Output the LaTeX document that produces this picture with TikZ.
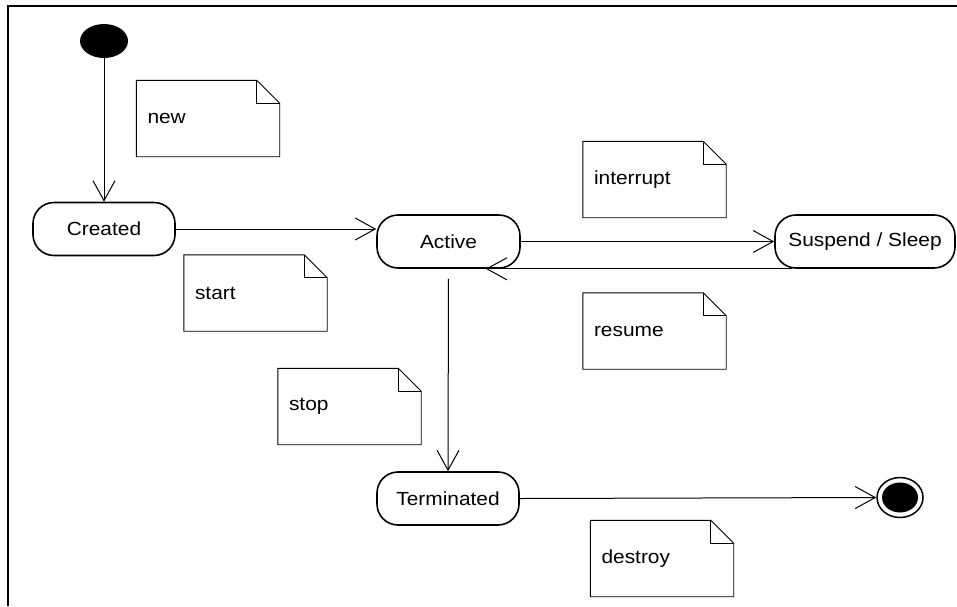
\documentclass[tikz,border=0pt]{standalone}
\usepackage{fontspec}
\setmainfont{Liberation Sans}[FakeStretch=1.1]
\usetikzlibrary{arrows.meta,shapes.geometric,calc}
\tikzset{
  statebox/.style={draw, line width=1.6pt, rounded corners=21pt, minimum height=53pt, inner sep=0pt, font=\fontsize{19}{22}\selectfont},
  notebox/.style={minimum width=143pt, minimum height=76pt, text width=121pt, align=left, inner xsep=11pt, inner ysep=0pt, font=\fontsize{19}{22}\selectfont},
  notefold/.style={line width=0.9pt},
  conn/.style={line width=1pt, -{Straight Barb[length=20pt,width=22pt,line width=1pt]}},
}
\newcommand\umlnotedraw[1]{%
  \draw[notefold] (#1.south west) -- (#1.north west) -- ([xshift=-23pt]#1.north east) -- ([yshift=-23pt]#1.north east) -- (#1.south east) -- cycle;
  \draw[notefold] ([xshift=-23pt]#1.north east) |- ([yshift=-23pt]#1.north east);
}
\begin{document}
\begin{tikzpicture}[x=1pt,y=-1pt]
\useasboundingbox (0,0) rectangle (957,606);
% frame
\draw[line width=2.2pt] (8,606) -- (8,6) -- (957,6);
% states
\node[ellipse, fill=black, minimum width=48pt, minimum height=34pt, inner sep=0pt] (init) at (104,41) {};
\node[statebox, minimum width=142pt] (created) at (104,229) {Created};
\node[statebox, minimum width=143pt] (active) at (448.5,241.5) {Active};
\node[statebox, minimum width=180pt] (susp) at (865,241.5) {Suspend / Sleep};
\node[statebox, minimum width=142pt] (term) at (448,498.5) {Terminated};
\node[ellipse, draw, line width=1.5pt, minimum width=46pt, minimum height=40pt, inner sep=0pt] (final) at (900,497.5) {};
\fill (final.center) ellipse [x radius=18pt, y radius=15pt];
% notes
\node[notebox] (nnew) at (208,118.5) {new};
\node[notebox] (nstart) at (255.5,293) {start};
\node[notebox] (nint) at (654.5,179.5) {interrupt};
\node[notebox] (nres) at (654.5,331) {resume};
\node[notebox] (nstop) at (349.5,406.5) {stop};
\node[notebox] (ndes) at (662,558.5) {destroy};
\umlnotedraw{nnew}
\umlnotedraw{nstart}
\umlnotedraw{nint}
\umlnotedraw{nres}
\umlnotedraw{nstop}
\umlnotedraw{ndes}
% transitions
\draw[conn] (init.south) -- (created.north);
\draw[conn] (created.east) -- (created.east -| active.west);
\draw[conn] (active.east) -- (susp.west);
\draw[conn] ($(susp.south west)+(18,0)$) -- ($(active.south east)+(-35,0)$);
\draw[conn, shorten <=10pt] (active.south) -- (term.north);
\draw[conn] (term.east) -- (final.west);
\end{tikzpicture}
\end{document}
